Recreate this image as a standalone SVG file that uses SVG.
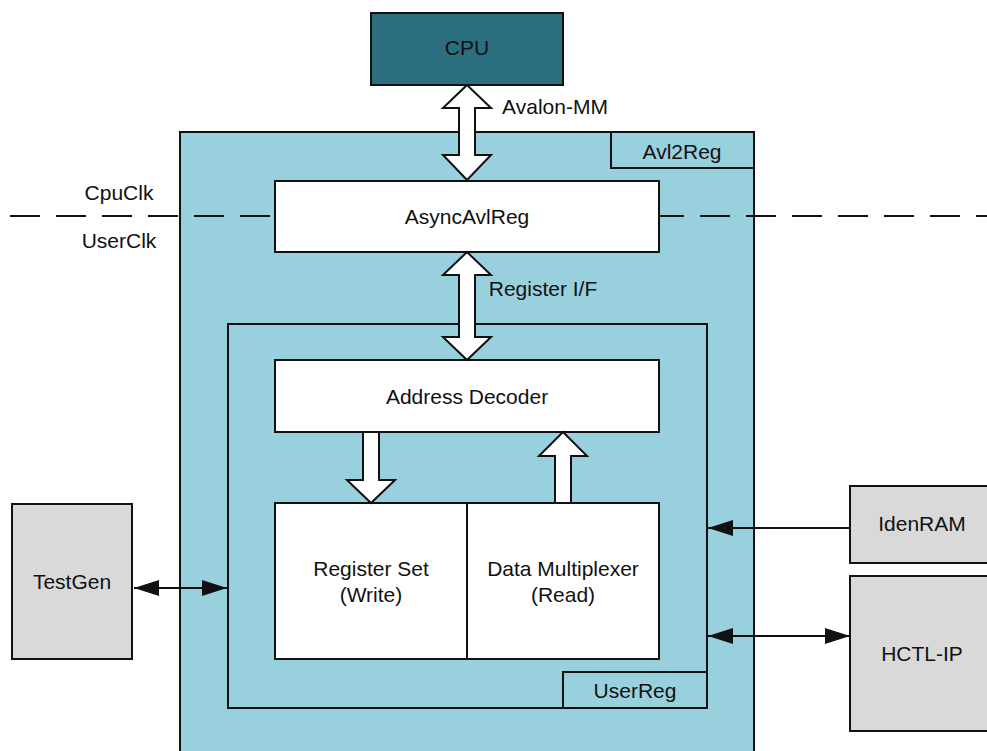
<svg xmlns="http://www.w3.org/2000/svg" width="987" height="751" viewBox="0 0 987 751">
<style>
.box{stroke:#111;stroke-width:2}
.blue{fill:#99d0de}
.white{fill:#fff}
.gray{fill:#d9d9d9}
.t{font-family:"Liberation Sans",Arial,sans-serif;font-size:21px;fill:#111;text-anchor:middle;dominant-baseline:central}
.conn{stroke:#111;stroke-width:2;fill:none}
.fat{fill:#fff;stroke:#111;stroke-width:2;stroke-linejoin:miter}
</style>
<defs>
<marker id="ah" viewBox="0 0 25 16" refX="25" refY="8" markerWidth="25" markerHeight="16" markerUnits="userSpaceOnUse" orient="auto-start-reverse">
<path d="M0,0 L25,8 L0,16 z" fill="#111"/>
</marker>
</defs>
<rect width="987" height="751" fill="#fff"/>
<g id="avl2reg">
<rect class="box blue" x="180" y="132" width="574" height="640"/>
<rect class="box blue" x="611" y="132" width="143" height="36"/>
<text class="t" x="682" y="151">Avl2Reg</text>
</g>
<g id="clock-boundary">
<line x1="10" y1="216" x2="987" y2="216" stroke="#111" stroke-width="2" stroke-dasharray="30 16"/>
<text class="t" x="119" y="192">CpuClk</text>
<text class="t" x="119" y="240">UserClk</text>
</g>
<g id="cpu">
<rect class="box" fill="#2a6e80" x="371" y="13" width="192" height="72"/>
<text class="t" x="467" y="47">CPU</text>
</g>
<g id="asyncavlreg">
<rect class="box white" x="275" y="181" width="384" height="71"/>
<text class="t" x="467" y="216">AsyncAvlReg</text>
</g>
<g id="userreg">
<rect class="box blue" x="228" y="324" width="479" height="384"/>
<rect class="box blue" x="563" y="672" width="144" height="36"/>
<text class="t" x="635" y="690">UserReg</text>
</g>
<g id="address-decoder">
<rect class="box white" x="275" y="360" width="384" height="72"/>
<text class="t" x="467" y="396">Address Decoder</text>
</g>
<g id="register-set">
<rect class="box white" x="275" y="503" width="192" height="156"/>
<text class="t" x="371" y="568">Register Set</text>
<text class="t" x="371" y="594">(Write)</text>
</g>
<g id="data-mux">
<rect class="box white" x="467" y="503" width="192" height="156"/>
<text class="t" x="563" y="568">Data Multiplexer</text>
<text class="t" x="563" y="594">(Read)</text>
</g>
<g id="testgen">
<rect class="box gray" x="12" y="504" width="120" height="155"/>
<text class="t" x="72" y="581">TestGen</text>
</g>
<g id="idenram">
<rect class="box gray" x="850" y="486" width="145" height="77"/>
<text class="t" x="922" y="523">IdenRAM</text>
</g>
<g id="hctl-ip">
<rect class="box gray" x="850" y="576" width="145" height="155"/>
<text class="t" x="922" y="653">HCTL-IP</text>
</g>
<g id="connectors">
<polygon class="fat" points="467,85 491,108 475,108 475,155 491,155 467,180 443,155 459,155 459,108 443,108"/>
<text class="t" x="555" y="106">Avalon-MM</text>
<polygon class="fat" points="467,252 491,275 475,275 475,337 491,337 467,360 443,337 459,337 459,275 443,275"/>
<text class="t" x="543" y="288">Register I/F</text>
<polygon class="fat" points="363,432 379,432 379,480 395,480 371,503 347,480 363,480"/>
<polygon class="fat" points="563,432 587,456 571,456 571,503 555,503 555,456 539,456"/>
<line class="conn" x1="134" y1="588" x2="227" y2="588" marker-start="url(#ah)" marker-end="url(#ah)"/>
<line class="conn" x1="850" y1="528" x2="708" y2="528" marker-end="url(#ah)"/>
<line class="conn" x1="708" y1="636" x2="850" y2="636" marker-start="url(#ah)" marker-end="url(#ah)"/>
</g>
</svg>
